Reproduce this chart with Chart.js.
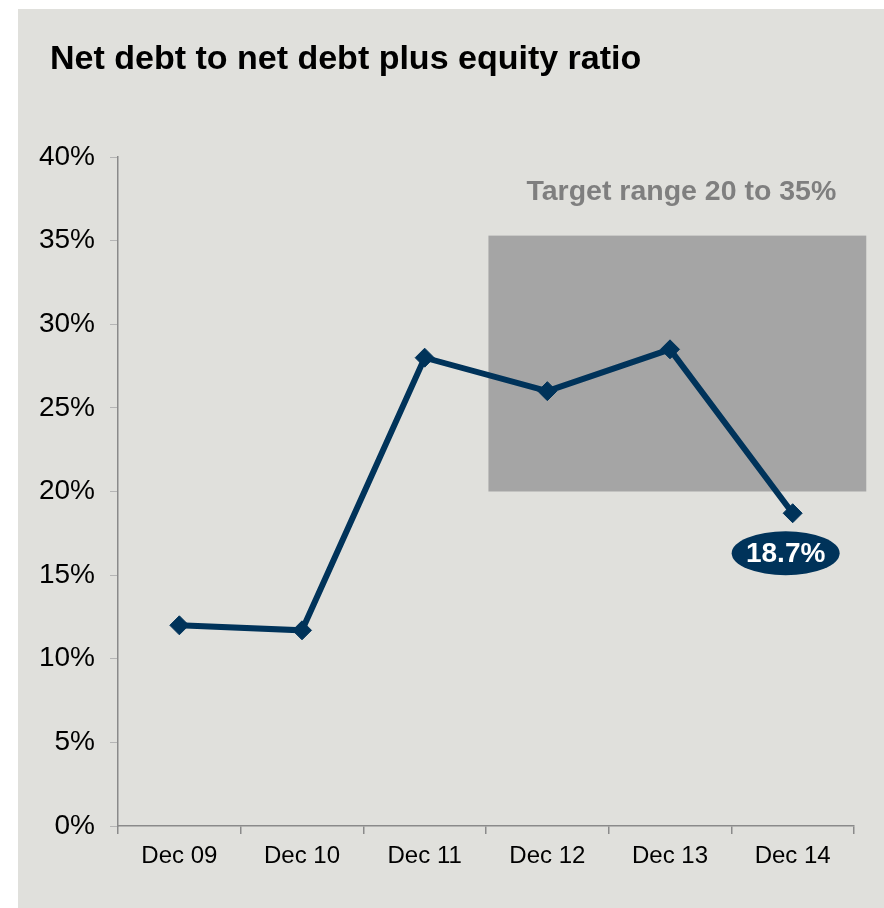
<!DOCTYPE html>
<html>
<head>
<meta charset="utf-8">
<script src="https://cdn.jsdelivr.net/npm/chart.js@4.4.1/dist/chart.umd.min.js"></script>
<style>
  html, body { margin: 0; padding: 0; background: #ffffff; }
  #panel {
    position: absolute; left: 18px; top: 9px;
    width: 866px; height: 899px;
    background: #e0e0dc;
  }
  #ratioChart { display: block; }
</style>
</head>
<body>
<div id="panel"><canvas id="ratioChart" width="866" height="899"></canvas></div>
<script>
// Chart data
const periods = ['Dec 09', 'Dec 10', 'Dec 11', 'Dec 12', 'Dec 13', 'Dec 14'];
const gearingRatio = [12.0, 11.7, 28.0, 26.0, 28.5, 18.7];
const yTicks = [0, 5, 10, 15, 20, 25, 30, 35, 40];
const targetRange = [20, 35.3];          // shaded band, in %
const targetSpan = [2.52, 5.6];          // band start/end, in category index
const chartTitle = 'Net debt to net debt plus equity ratio';
const targetText = 'Target range 20 to 35%';

const FONT = "'Liberation Sans', Arial, sans-serif";
const NAVY = '#00335a';
const AXIS = '#8a8a8a';

// title, left aligned with the panel text margin
const panelTitle = {
    id: 'panelTitle',
    afterDraw(chart) {
        const { ctx } = chart;
        ctx.save();
        ctx.fillStyle = '#000000';
        ctx.font = 'bold 34px ' + FONT;
        ctx.textAlign = 'left';
        ctx.textBaseline = 'middle';
        ctx.fillText(chartTitle, 32, 51);
        ctx.restore();
    }
};

// shaded target box + caption, drawn behind the line
const targetBand = {
    id: 'targetBand',
    beforeDatasetsDraw(chart) {
        const { ctx, scales: { x, y } } = chart;
        const left = x.getPixelForValue(targetSpan[0]);
        const right = x.getPixelForValue(targetSpan[1]);
        const top = y.getPixelForValue(targetRange[1]);
        const bottom = y.getPixelForValue(targetRange[0]);
        ctx.save();
        ctx.fillStyle = '#a5a5a5';
        ctx.fillRect(left, top, right - left, bottom - top);
        ctx.fillStyle = '#7f7f7f';
        ctx.font = 'bold 28.5px ' + FONT;
        ctx.textAlign = 'center';
        ctx.textBaseline = 'middle';
        ctx.fillText(targetText, (left + right) / 2 + 4, y.getPixelForValue(37.9));
        ctx.restore();
    }
};

// navy oval with the latest value
const lastValueTag = {
    id: 'lastValueTag',
    afterDatasetsDraw(chart) {
        const { ctx } = chart;
        const meta = chart.getDatasetMeta(0);
        const i = gearingRatio.length - 1;
        const pt = meta.data[i];
        const cx = pt.x - 7, cy = pt.y + 40;
        ctx.save();
        ctx.fillStyle = NAVY;
        ctx.beginPath();
        ctx.ellipse(cx, cy, 54, 22, 0, 0, Math.PI * 2);
        ctx.fill();
        ctx.fillStyle = '#ffffff';
        ctx.font = 'bold 28px ' + FONT;
        ctx.textAlign = 'center';
        ctx.textBaseline = 'middle';
        ctx.fillText(gearingRatio[i].toFixed(1) + '%', cx, cy + 1);
        ctx.restore();
    }
};

document.addEventListener('DOMContentLoaded', () => {
    const ctx = document.getElementById('ratioChart').getContext('2d');
    new Chart(ctx, {
        type: 'line',
        data: {
            labels: periods,
            datasets: [{
                data: gearingRatio,
                borderColor: NAVY,
                backgroundColor: NAVY,
                borderWidth: 6,
                pointStyle: 'rectRot',
                pointRadius: 9.5,
                pointBorderWidth: 1,
                tension: 0
            }]
        },
        options: {
            responsive: false,
            animation: false,
            layout: { padding: { left: 0, right: 30, top: 148, bottom: 0 } },
            plugins: {
                legend: { display: false },
                tooltip: { enabled: false },
                title: { display: false }
            },
            scales: {
                x: {
                    offset: true,
                    grid: { offset: true, drawOnChartArea: false, tickLength: 8, color: AXIS, lineWidth: 1.5 },
                    border: { color: AXIS, width: 1.5 },
                    ticks: { color: '#000000', padding: 8, maxRotation: 0, font: { family: FONT, size: 24 } },
                    afterFit: s => { s.height = 82; }
                },
                y: {
                    min: 0,
                    max: 40,
                    afterBuildTicks: s => { s.ticks = yTicks.map(v => ({ value: v })); },
                    grid: { drawOnChartArea: false, tickLength: 8, tickColor: '#b4b4b4', lineWidth: 1 },
                    border: { color: AXIS, width: 1.5 },
                    ticks: {
                        color: '#000000',
                        padding: 15,
                        font: { family: FONT, size: 28 },
                        callback: v => v + '%'
                    },
                    afterFit: s => { s.width = 100; }
                }
            }
        },
        plugins: [targetBand, lastValueTag, panelTitle]
    });
});
</script>
</body>
</html>
